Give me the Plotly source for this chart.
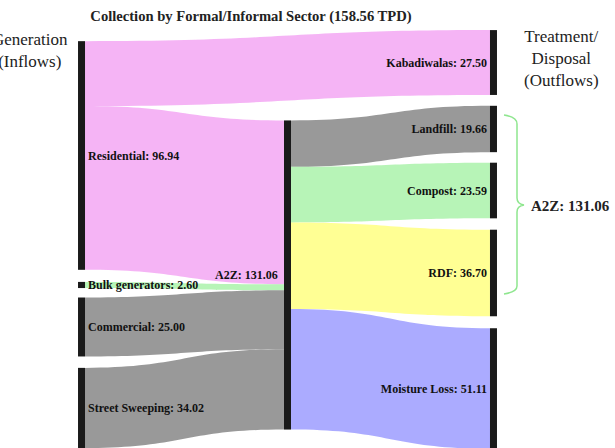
import plotly.graph_objects as go

# ---- data ----
node_names = ["Residential", "Bulk generators", "Commercial", "Street Sweeping",
              "A2Z", "Kabadiwalas", "Landfill", "Compost", "RDF", "Moisture Loss"]
link_source = ["Residential", "Residential", "Bulk generators", "Commercial", "Street Sweeping",
               "A2Z", "A2Z", "A2Z", "A2Z"]
link_target = ["Kabadiwalas", "A2Z", "A2Z", "A2Z", "A2Z",
               "Landfill", "Compost", "RDF", "Moisture Loss"]
link_values = [27.50, 69.44, 2.60, 25.00, 34.02, 19.66, 23.59, 36.70, 51.11]
total_tpd = 158.56
a2z_total = 131.06

# ---- layout of nodes (normalized, centre positions) ----
node_x = [0.0084, 0.0084, 0.0084, 0.0084, 0.5, 0.9916, 0.9916, 0.9916, 0.9916, 0.9916]
node_y = [0.3002, 0.6100, 0.7105, 0.9043, 0.5861, 0.0778, 0.2368, 0.3840, 0.5813, 0.8577]

# ---- styles ----
PINK = "rgba(238,130,238,0.6)"
GREEN = "rgba(144,238,144,0.65)"
GRAY = "rgba(128,128,128,0.8)"
YELLOW = "rgba(255,255,0,0.42)"
BLUE = "rgba(80,80,255,0.48)"
link_colors = [PINK, PINK, GREEN, GRAY, GRAY, GRAY, GREEN, YELLOW, BLUE]

idx = {n: i for i, n in enumerate(node_names)}
node_totals = {}
for s, t, v in zip(link_source, link_target, link_values):
    node_totals.setdefault(s, [0, 0])[1] += v
    node_totals.setdefault(t, [0, 0])[0] += v
labels = [f"{n}: {max(node_totals[n]):.2f}" for n in node_names]
# the middle node's label is drawn on its left as an annotation
mid = idx["A2Z"]
mid_label = labels[mid]
labels[mid] = ""

W, H = 615, 448
ML, MR, MT, MB = 78, 118, 30, 0
PW, PH = W - ML - MR, H - MT - MB
THICK = 7
SERIF = "Liberation Serif"

fig = go.Figure(go.Sankey(
    arrangement="fixed",
    valueformat=".2f",
    node=dict(
        label=labels,
        x=node_x, y=node_y,
        color="#1a1a1a",
        thickness=THICK,
        pad=11,
        line=dict(width=0),
    ),
    link=dict(
        source=[idx[s] for s in link_source],
        target=[idx[t] for t in link_target],
        value=link_values,
        color=link_colors,
    ),
    textfont=dict(family=SERIF, size=12, color="#111", weight="bold", shadow="none"),
))

def px2paper(x, y):
    return (x - ML) / PW, (H - MB - y) / PH

# curly brace decoration
pts = [(504, 115), (517, 117), (517, 124), (517, 198), (517, 204), (524, 205),
       (517, 206), (517, 212), (517, 286), (517, 292), (504, 294)]
p = [px2paper(*q) for q in pts]
path = (f"M {p[0][0]},{p[0][1]} Q {p[1][0]},{p[1][1]} {p[2][0]},{p[2][1]} "
        f"L {p[3][0]},{p[3][1]} Q {p[4][0]},{p[4][1]} {p[5][0]},{p[5][1]} "
        f"Q {p[6][0]},{p[6][1]} {p[7][0]},{p[7][1]} L {p[8][0]},{p[8][1]} "
        f"Q {p[9][0]},{p[9][1]} {p[10][0]},{p[10][1]}")
bx, by = px2paper(529, 206)
g1x, g1y = px2paper(30, 50)
g2x, g2y = px2paper(561, 59)
mid_x = node_x[mid] - (THICK / 2 + 4) / PW
mid_y = 1 - node_y[mid]

fig.update_layout(
    width=W, height=H,
    margin=dict(l=ML, r=MR, t=MT, b=MB),
    paper_bgcolor="white",
    font=dict(family=SERIF, color="#222"),
    title=dict(text=f"Collection by Formal/Informal Sector ({total_tpd:.2f} TPD)",
               x=251 / W, xref="container", xanchor="center",
               y=1 - 16 / H, yref="container", yanchor="middle",
               font=dict(family=SERIF, size=14.6, color="#222", weight="bold")),
    shapes=[dict(type="path", path=path, xref="paper", yref="paper",
                 line=dict(color="#8fe68f", width=1.5))],
    annotations=[
        dict(text="Generation<br>(Inflows)", x=g1x, y=g1y,
             xref="paper", yref="paper", showarrow=False,
             xanchor="center", yanchor="middle",
             font=dict(family=SERIF, size=17, color="#222")),
        dict(text="Treatment/<br>Disposal<br>(Outflows)", x=g2x, y=g2y,
             xref="paper", yref="paper", showarrow=False,
             xanchor="center", yanchor="middle",
             font=dict(family=SERIF, size=17, color="#222")),
        dict(text=f"A2Z: {a2z_total:.2f}", x=bx, y=by, xref="paper", yref="paper",
             showarrow=False, xanchor="left", yanchor="middle",
             font=dict(family=SERIF, size=15, color="#222", weight="bold")),
        dict(text=mid_label, x=mid_x, y=mid_y, xref="paper", yref="paper",
             showarrow=False, xanchor="right", yanchor="middle",
             font=dict(family=SERIF, size=12, color="#111", weight="bold")),
    ],
)

fig.write_html("out.html")
